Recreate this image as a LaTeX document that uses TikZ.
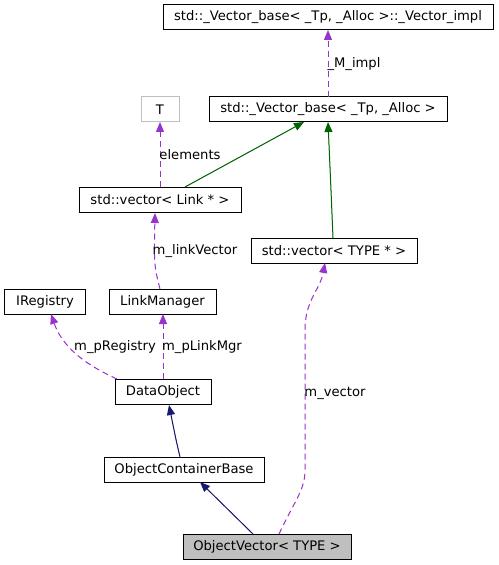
\documentclass[tikz,border=0pt]{standalone}
\usepackage{fontspec}
\setmainfont{DejaVu Sans}
\usetikzlibrary{arrows.meta}
\definecolor{dpurple}{HTML}{9A32CD}
\definecolor{dgreen}{HTML}{006400}
\definecolor{dnavy}{HTML}{191970}
\definecolor{dgray}{HTML}{BFBFBF}
\tikzset{
  cls/.style={draw=black, line width=1bp, inner sep=0pt, minimum height=25bp, font=\fontsize{13.2}{15}\selectfont},
  usage/.style={draw=dpurple, dash pattern=on 6bp off 4bp, line width=1bp, -{Triangle[length=10bp,width=8bp]}, fill=none},
  inh/.style={line width=1bp, -{Triangle[length=10bp,width=8bp]}},
  lbl/.style={inner sep=0pt, font=\fontsize{13.2}{15}\selectfont},
}
\begin{document}
\begin{tikzpicture}[x=1bp,y=-1bp]
\useasboundingbox (0,0) rectangle (499,565);
\fill[white] (0,0) rectangle (499,565);
% nodes
\node[cls, minimum width=330bp] (impl) at (328,17.5) {std::\_Vector\_base< \_Tp, \_Alloc >::\_Vector\_impl};
\node[cls, minimum width=238bp] (base) at (328,109.5) {std::\_Vector\_base< \_Tp, \_Alloc >};
\node[cls, draw=dgray, minimum width=38bp] (T) at (160,109.5) {T};
\node[cls, minimum width=162bp] (vlink) at (160,200) {std::vector< Link * >};
\node[cls, minimum width=166bp] (vtype) at (334,250.5) {std::vector< TYPE * >};
\node[cls, minimum width=80bp] (ireg) at (45,301.5) {IRegistry};
\node[cls, minimum width=107bp] (lmgr) at (162.5,301.5) {LinkManager};
\node[cls, minimum width=96bp] (dobj) at (163,392) {DataObject};
\node[cls, minimum width=160bp] (ocb) at (184,469.5) {ObjectContainerBase};
\node[cls, fill=dgray, minimum width=168bp] (ov) at (267,546.5) {ObjectVector< TYPE >};
% coordinates on boxes
\coordinate (a1) at (328,97);  \coordinate (a2) at (328,30);
\coordinate (b1) at (160,187); \coordinate (b2) at (160,122);
\coordinate (c1) at (185,187); \coordinate (c2) at (304,122);
\coordinate (d1) at (333,238); \coordinate (d2) at (328,122);
\coordinate (e1) at (160,289); \coordinate (e2) at (155,213);
\coordinate (f1) at (117,379); \coordinate (f2) at (51,314);
\coordinate (g1) at (163,379); \coordinate (g2) at (163,314);
\coordinate (h1) at (180,457); \coordinate (h2) at (169,405);
\coordinate (i1) at (253,534); \coordinate (i2) at (200,482);
\coordinate (j1) at (279,534); \coordinate (j2) at (325,263);
% edges
\draw[usage] (a1) -- (a2);
\node[lbl] (lMimpl) at (354,64) {\_M\_impl};
\draw[usage] (b1) -- (b2);
\node[lbl] (lelem) at (190,155) {elements};
\draw[inh, draw=dgreen, fill=dgreen] (c1) -- (c2);
\draw[inh, draw=dgreen, fill=dgreen] (d1) .. controls (331,190) .. (d2);
\draw[usage] (e1) .. controls (154,265) .. (e2);
\node[lbl] (llv) at (195,251) {m\_linkVector};
\draw[usage] (f1) .. controls (95,369) and (64,352) .. (f2);
\node[lbl] (lreg) at (115,347) {m\_pRegistry};
\draw[usage] (g1) -- (g2);
\node[lbl] (llm) at (202,347) {m\_pLinkMgr};
\draw[inh, draw=dnavy, fill=dnavy] (h1) .. controls (176,440) .. (h2);
\draw[inh, draw=dnavy, fill=dnavy] (i1) -- (i2);
\draw[usage] (j1) .. controls (295,500) and (305,490) .. (305,470) -- (305,330) .. controls (305,300) and (320,290) .. (j2);
\node[lbl] (lvec) at (335,393) {m\_vector};
\end{tikzpicture}
\end{document}
